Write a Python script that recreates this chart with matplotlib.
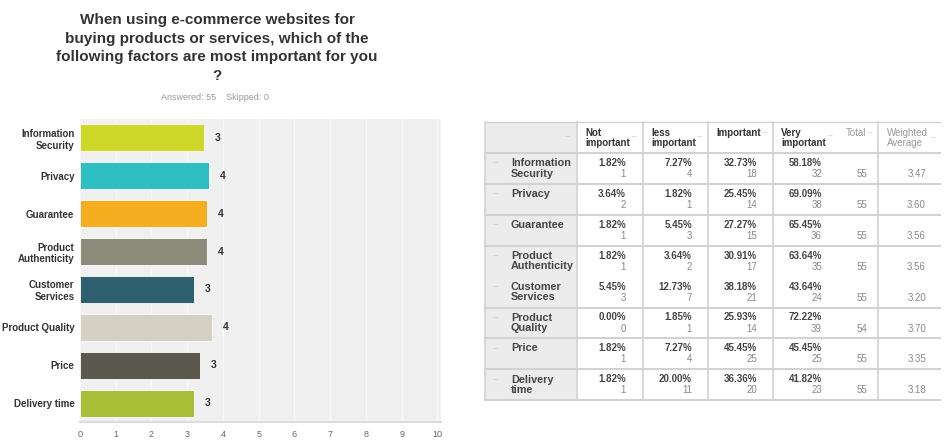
import numpy as np
import matplotlib.pyplot as plt
from matplotlib.patches import Rectangle

plt.rcParams['font.family'] = ['Liberation Sans', 'DejaVu Sans']

# Survey results
bar_labels = ['Information\nSecurity', 'Privacy', 'Guarantee', 'Product\nAuthenticity',
              'Customer\nServices', 'Product Quality', 'Price', 'Delivery time']
row_labels = ['Information\nSecurity', 'Privacy', 'Guarantee', 'Product\nAuthenticity',
              'Customer\nServices', 'Product\nQuality', 'Price', 'Delivery\ntime']
bar_colors = ['#cdd829', '#2fbec1', '#f5ad1f', '#8a8b7b',
              '#2d5f6e', '#d4d1c4', '#5b584d', '#a9bf38']

headers = ['Not\nimportant', 'less\nimportant', 'Important', 'Very\nimportant']
not_imp_pct = [1.82, 3.64, 1.82, 1.82, 5.45, 0.00, 1.82, 1.82]
not_imp_n = [1, 2, 1, 1, 3, 0, 1, 1]
less_imp_pct = [7.27, 1.82, 5.45, 3.64, 12.73, 1.85, 7.27, 20.00]
less_imp_n = [4, 1, 3, 2, 7, 1, 4, 11]
imp_pct = [32.73, 25.45, 27.27, 30.91, 38.18, 25.93, 45.45, 36.36]
imp_n = [18, 14, 15, 17, 21, 14, 25, 20]
very_imp_pct = [58.18, 69.09, 65.45, 63.64, 43.64, 72.22, 45.45, 41.82]
very_imp_n = [32, 38, 36, 35, 24, 39, 25, 23]
totals = [55, 55, 55, 55, 55, 54, 55, 55]
weighted_avg = [3.47, 3.60, 3.56, 3.56, 3.20, 3.70, 3.35, 3.18]

W, H = 953, 442
fig = plt.figure(figsize=(W / 100, H / 100), dpi=100)

def fx(px):
    return px / W

def fy(py):
    return 1 - py / H

# title
fig.text(fx(217), fy(48), 'When using e-commerce websites for\nbuying products or services, which of the\n'
         'following factors are most important for you\n?',
         ha='center', va='center', fontsize=11, fontweight='bold', color='#333333',
         linespacing=1.42)
fig.text(fx(215), fy(98), 'Answered: 55    Skipped: 0', ha='center', va='center',
         fontsize=6.5, color='#999999')

# bar chart
ax = fig.add_axes([fx(80), fy(422), fx(441) - fx(80), fy(119) - fy(422)])
ax.set_facecolor('#f0f0f0')
y = np.arange(len(bar_labels))
ax.barh(y, weighted_avg, height=0.71, color=bar_colors, edgecolor='#ffffff',
        linewidth=0.6, zorder=3)
for yi, v in zip(y, weighted_avg):
    ax.text(v + 0.3, yi, f'{v:.0f}', va='center', ha='left', fontsize=7.5,
            fontweight='bold', color='#333333')
ax.set_xlim(0, 10.1)
ax.set_ylim(len(bar_labels) - 0.5, -0.5)
ax.set_xticks(range(11))
ax.set_yticks(y)
ax.set_yticklabels(bar_labels, fontsize=7, fontweight='bold', color='#333333')
ax.tick_params(axis='x', length=0, pad=6, labelsize=6.5, labelcolor='#666666')
ax.tick_params(axis='y', length=0, pad=4)
ax.grid(axis='x', color='#f8f8f8', linewidth=1, zorder=0)
for s in ['top', 'right', 'left']:
    ax.spines[s].set_visible(False)
ax.spines['bottom'].set_color('#dcdcdc')
ax.spines['bottom'].set_linewidth(1.5)

# table drawn in pixel coordinates
tab = fig.add_axes([0, 0, 1, 1])
tab.set_xlim(0, W)
tab.set_ylim(H, 0)
tab.axis('off')

left, right = 485, 940
col_edges = [577, 643, 708, 773]
total_x, wavg_edge = 862, 878
top, head_bot, row_h = 122, 153, 30.9
n = len(row_labels)
bottom = head_bot + n * row_h
line_c = '#d2d2d2'

tab.add_patch(Rectangle((left, top), col_edges[0] - left, bottom - top,
                        facecolor='#ececec', edgecolor='none'))
tab.plot([left, right], [top, top], color=line_c, lw=1)
tab.plot([left, right], [head_bot, head_bot], color=line_c, lw=1.5)
for i in range(1, n + 1):
    if i == 4:
        continue
    yy = head_bot + i * row_h
    tab.plot([left, right], [yy, yy], color=line_c, lw=1.5)
for xx in [left] + col_edges + [wavg_edge]:
    tab.plot([xx, xx], [top, bottom], color=line_c, lw=1.2)

# header
tab.text(col_edges[0] - 10, 137, '–', fontsize=6, color='#bbbbbb', ha='center', va='center')
for k, h in enumerate(headers):
    x0 = col_edges[k] + 8
    if '\n' in h:
        tab.text(x0, 138, h, fontsize=7, fontweight='bold', color='#333333',
                 ha='left', va='center', linespacing=1.1)
    else:
        tab.text(x0, 133, h, fontsize=7, fontweight='bold', color='#333333',
                 ha='left', va='center')
x_dash = [634, 699, 765, 830]
y_dash = [137, 137, 133, 136]
for xd, yd in zip(x_dash, y_dash):
    tab.text(xd, yd, '–', fontsize=6, color='#bbbbbb', ha='center', va='center')
tab.text(846, 133, 'Total', fontsize=7, color='#999999', ha='left', va='center')
tab.text(870, 133, '–', fontsize=6, color='#bbbbbb', ha='center', va='center')
tab.text(887, 138, 'Weighted\nAverage', fontsize=7, color='#999999', ha='left',
         va='center', linespacing=1.1)
tab.text(933, 138, '–', fontsize=6, color='#bbbbbb', ha='center', va='center')

# body rows
col_right = [626, 692, 757, 822]
pcts = [not_imp_pct, less_imp_pct, imp_pct, very_imp_pct]
counts = [not_imp_n, less_imp_n, imp_n, very_imp_n]
for i in range(n):
    r0 = head_bot + i * row_h
    tab.text(495, r0 + 10, '–', fontsize=6, color='#bbbbbb', ha='center', va='center')
    tab.text(511, r0 + 15.5 if '\n' in row_labels[i] else r0 + 10, row_labels[i],
             fontsize=7.8, fontweight='bold', color='#444444', ha='left', va='center',
             linespacing=1.05)
    for k in range(4):
        tab.text(col_right[k], r0 + 10, f'{pcts[k][i]:.2f}%', fontsize=7,
                 fontweight='bold', color='#444444', ha='right', va='center')
        tab.text(col_right[k], r0 + 21, f'{counts[k][i]}', fontsize=7,
                 color='#888888', ha='right', va='center')
    tab.text(total_x, r0 + 21, f'{totals[i]}', fontsize=7, color='#888888',
             ha='center', va='center')
    tab.text(926, r0 + 21, f'{weighted_avg[i]:.2f}', fontsize=7, color='#888888',
             ha='right', va='center')

fig.savefig('out.png', dpi=100)
